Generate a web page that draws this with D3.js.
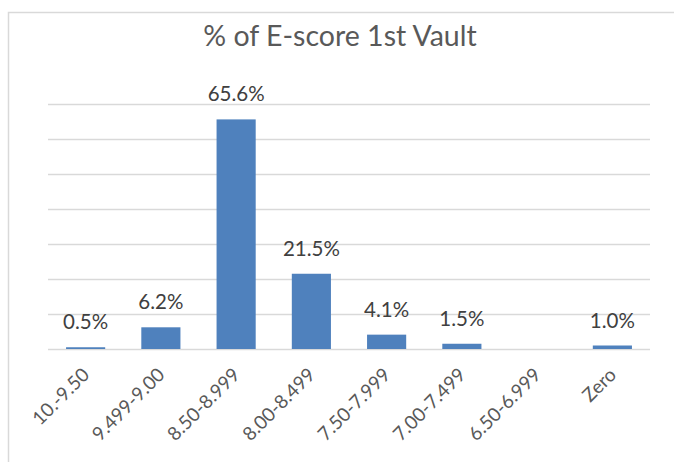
<!DOCTYPE html>
<html>
<head>
<meta charset="utf-8">
<script src="https://cdn.jsdelivr.net/npm/d3@7"></script>
<style>
  body { margin: 0; background: #fff; }
  text { font-family: Lato, "Open Sans", sans-serif; }
</style>
</head>
<body>
<div id="chart"></div>
<script>
// chart data
var categories = ["10.-9.50", "9.499-9.00", "8.50-8.999", "8.00-8.499", "7.50-7.999", "7.00-7.499", "6.50-6.999", "Zero"];
var values = [0.5, 6.2, 65.6, 21.5, 4.1, 1.5, 0, 1.0];
var gridTicks = [0, 10, 20, 30, 40, 50, 60, 70];

var width = 674;
var height = 462;
var margin = { top: 104, right: 24, bottom: 113, left: 48 };

var svg = d3.select("#chart")
    .append("svg")
    .attr("width", width)
    .attr("height", height);

// outer chart frame (cut off at right and bottom)
svg.append("rect")
    .attr("x", 8.5)
    .attr("y", 12.5)
    .attr("width", 700)
    .attr("height", 500)
    .style("fill", "none")
    .style("stroke", "#d9d9d9")
    .style("stroke-width", 1.5);

var xScale = d3.scaleBand()
    .domain(categories)
    .range([margin.left, width - margin.right])
    .paddingInner(0.48)
    .paddingOuter(0.24);

var yScale = d3.scaleLinear()
    .domain([0, 70])
    .range([height - margin.bottom, margin.top]);

// gridlines
svg.append("g")
    .selectAll("line")
    .data(gridTicks)
    .enter().append("line")
    .attr("x1", margin.left)
    .attr("x2", width - margin.right)
    .attr("y1", d => Math.round(yScale(d)) + 0.5)
    .attr("y2", d => Math.round(yScale(d)) + 0.5)
    .style("stroke", "#d9d9d9")
    .style("stroke-width", 1.3);

// bars
svg.selectAll(".bar")
    .data(values)
    .enter().append("rect")
    .attr("class", "bar")
    .attr("x", (d, i) => xScale(categories[i]))
    .attr("y", d => yScale(d))
    .attr("width", xScale.bandwidth())
    .attr("height", d => yScale(0) - yScale(d))
    .style("fill", "#4f81bd");

// data labels (no label on the empty bar)
svg.selectAll(".label")
    .data(categories.filter((c, i) => values[i] > 0))
    .enter().append("text")
    .attr("class", "label")
    .attr("x", c => xScale(c) + xScale.bandwidth() / 2)
    .attr("y", c => yScale(values[categories.indexOf(c)]) - 18)
    .style("text-anchor", "middle")
    .style("font-size", "20.5px")
    .style("fill", "#404040")
    .text(c => values[categories.indexOf(c)].toFixed(1) + "%");

// x axis labels
var xAxis = svg.append("g")
    .attr("transform", "translate(0," + yScale(0) + ")")
    .call(d3.axisBottom(xScale).tickSize(0).tickPadding(0));
xAxis.select(".domain").remove();
xAxis.selectAll("text")
    .attr("x", 0)
    .attr("y", 0)
    .attr("dy", 0)
    .attr("transform", "translate(5,27) rotate(-45)")
    .style("text-anchor", "end")
    .style("font-family", "Lato, sans-serif")
    .style("font-size", "19px")
    .style("fill", "#595959");

// title
svg.append("text")
    .attr("x", 340)
    .attr("y", 46)
    .style("text-anchor", "middle")
    .style("font-size", "28.5px")
    .style("fill", "#595959")
    .text("% of E-score 1st Vault");
</script>
</body>
</html>
